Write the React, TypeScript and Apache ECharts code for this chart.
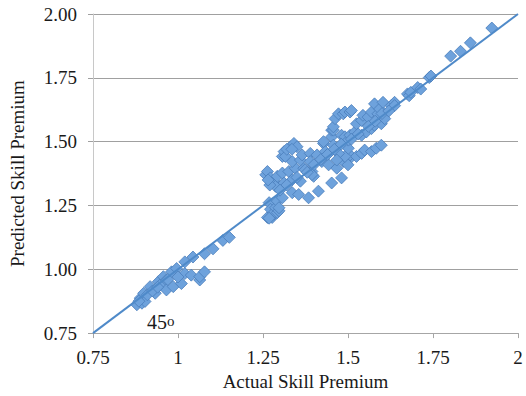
import React, { useEffect, useRef } from "react";
import * as echarts from "echarts";

const actual: number[] = [
  0.879, 0.889, 0.894, 0.899, 0.903, 0.918, 0.933, 0.942, 0.947, 0.957, 0.966, 0.966, 0.981, 0.986, 0.996, 1.01, 1.02, 1.02, 1.039, 1.044, 1.064, 1.064, 1.078, 1.078, 1.103, 1.132, 1.151, 0.91, 0.925, 0.97, 0.885, 0.94, 1.0,
  1.263, 1.268, 1.272, 1.277, 1.282, 1.282, 1.287, 1.292, 1.292, 1.297, 1.297, 1.307, 1.268,
  1.258, 1.263, 1.272, 1.282, 1.287, 1.292, 1.307, 1.312, 1.326, 1.336, 1.345, 1.36, 1.37, 1.394, 1.399, 1.374, 1.394, 1.27, 1.265,
  1.307, 1.312, 1.316, 1.331, 1.341, 1.35, 1.336, 1.36, 1.365, 1.389, 1.389, 1.409, 1.423, 1.428, 1.433, 1.443, 1.32, 1.335,
  1.336, 1.355, 1.384, 1.413, 1.452, 1.481, 1.486, 1.501, 1.506, 1.525, 1.54, 1.549, 1.569, 1.583, 1.598, 1.467, 1.5, 1.491,
  1.428, 1.452, 1.452, 1.457, 1.457, 1.462, 1.472, 1.486, 1.491, 1.506, 1.51, 1.481, 1.491, 1.472, 1.467, 1.501, 1.457,
  1.491, 1.501, 1.506, 1.52, 1.525, 1.54, 1.54, 1.544, 1.554, 1.559, 1.569, 1.569, 1.578, 1.578, 1.588, 1.593, 1.598, 1.603, 1.608, 1.627, 1.637, 1.637,
  1.32, 1.35, 1.38, 1.4, 1.42, 1.44, 1.46, 1.48, 1.51, 1.53, 1.56, 1.58, 1.6, 1.62, 1.3,
  1.675, 1.68, 1.685, 1.705, 1.714, 1.739, 1.744, 1.802, 1.831, 1.86, 1.923,
];

const predicted: number[] = [
  0.861, 0.887, 0.867, 0.906, 0.874, 0.932, 0.906, 0.951, 0.938, 0.971, 0.958, 0.919, 0.99, 0.932, 1.003, 0.944, 0.983, 1.029, 0.977, 1.048, 0.958, 0.971, 0.99, 1.061, 1.08, 1.113, 1.125, 0.9, 0.915, 0.96, 0.875, 0.93, 0.97,
  1.203, 1.261, 1.235, 1.203, 1.216, 1.222, 1.241, 1.222, 1.267, 1.229, 1.241, 1.28, 1.2,
  1.37, 1.383, 1.358, 1.345, 1.325, 1.364, 1.377, 1.338, 1.383, 1.351, 1.396, 1.345, 1.396, 1.383, 1.364, 1.39, 1.371, 1.33, 1.35,
  1.442, 1.461, 1.442, 1.48, 1.493, 1.48, 1.422, 1.428, 1.448, 1.454, 1.422, 1.448, 1.422, 1.493, 1.461, 1.409, 1.47, 1.47,
  1.3, 1.293, 1.28, 1.306, 1.338, 1.358, 1.422, 1.428, 1.448, 1.442, 1.454, 1.467, 1.461, 1.474, 1.486, 1.396, 1.409, 1.442,
  1.5, 1.519, 1.545, 1.545, 1.558, 1.59, 1.609, 1.609, 1.616, 1.616, 1.622, 1.525, 1.5, 1.454, 1.428, 1.474, 1.486,
  1.519, 1.506, 1.525, 1.538, 1.57, 1.525, 1.583, 1.603, 1.538, 1.596, 1.551, 1.616, 1.564, 1.648, 1.609, 1.628, 1.57, 1.654, 1.59, 1.641, 1.654, 1.641,
  1.33, 1.36, 1.38, 1.41, 1.43, 1.45, 1.47, 1.49, 1.51, 1.53, 1.56, 1.58, 1.61, 1.62, 1.31,
  1.687, 1.68, 1.693, 1.712, 1.706, 1.751, 1.757, 1.835, 1.854, 1.887, 1.945,
];

const lineEnds: number[] = [0.75, 2];
const axisMin = 0.75;
const axisMax = 2;
const axisStep = 0.25;
const xTitle = "Actual Skill Premium";
const yTitle = "Predicted Skill Premium";
const angleLabel = "45";
const angleSup = "o";

const FONT = "Liberation Serif";

export default function App() {
  const ref = useRef<HTMLDivElement>(null);
  useEffect(() => {
    if (!ref.current) return;
    const chart = echarts.init(ref.current, undefined, { renderer: "svg" });
    const points = actual.map((a, i) => [a, predicted[i]]);
    chart.setOption({
      animation: false,
      backgroundColor: "#ffffff",
      grid: { left: 89, right: 8, top: 14, bottom: 59, containLabel: false },
      xAxis: {
        type: "value",
        min: axisMin,
        max: axisMax,
        interval: axisStep,
        name: xTitle,
        nameLocation: "middle",
        nameGap: 37,
        nameTextStyle: { fontFamily: FONT, fontSize: 19, color: "#1a1a1a" },
        axisLine: { show: true, lineStyle: { color: "#a6a6a6", width: 1 } },
        axisTick: { show: true, length: 5, inside: false, lineStyle: { color: "#a6a6a6" } },
        axisLabel: {
          fontFamily: FONT,
          fontSize: 19,
          color: "#1a1a1a",
          margin: 15,
          formatter: (v: number) => String(Number(v.toFixed(2))),
        },
        splitLine: { show: false },
      },
      yAxis: {
        type: "value",
        min: axisMin,
        max: axisMax,
        interval: axisStep,
        name: yTitle,
        nameLocation: "middle",
        nameGap: 66,
        nameRotate: 90,
        nameTextStyle: { fontFamily: FONT, fontSize: 19, color: "#1a1a1a" },
        axisLine: { show: true, lineStyle: { color: "#c8c8c8", width: 1 } },
        axisTick: { show: true, length: 5, inside: false, lineStyle: { color: "#a0a0a0" } },
        axisLabel: {
          fontFamily: FONT,
          fontSize: 19,
          color: "#1a1a1a",
          margin: 16,
          formatter: (v: number) => v.toFixed(2),
        },
        splitLine: { show: true, lineStyle: { color: "#a0a0a0", width: 1 } },
      },
      series: [
        {
          type: "scatter",
          data: points,
          symbol: "diamond",
          symbolSize: 12,
          itemStyle: {
            color: "#6ea2dc",
            borderColor: "#4a7dbb",
            borderWidth: 0.8,
            opacity: 1,
          },
          z: 2,
        },
        {
          type: "line",
          data: [
            [lineEnds[0], lineEnds[0]],
            [lineEnds[1], lineEnds[1]],
          ],
          symbol: "none",
          lineStyle: { color: "#4f8ac9", width: 2 },
          z: 3,
        },
      ],
      graphic: [
        {
          type: "text",
          left: 147,
          top: 312,
          style: { text: angleLabel, fontFamily: FONT, fontSize: 20, fill: "#1a1a1a" },
        },
        {
          type: "text",
          left: 167,
          top: 313,
          style: { text: angleSup, fontFamily: FONT, fontSize: 15, fill: "#1a1a1a" },
        },
      ],
    });
    return () => chart.dispose();
  }, []);
  return (
    <div
      ref={ref}
      style={{ position: "absolute", left: 0, top: 0, width: 526, height: 396 }}
    />
  );
}
